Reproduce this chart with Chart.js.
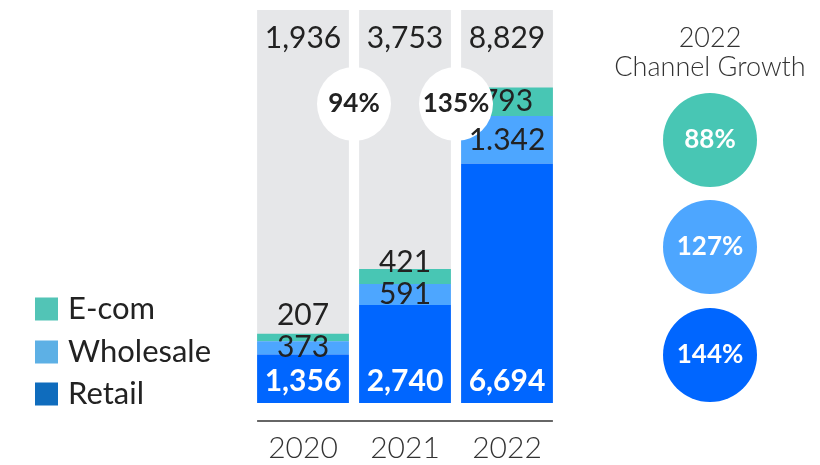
<!DOCTYPE html>
<html>
<head>
<meta charset="utf-8">
<script src="https://cdn.jsdelivr.net/npm/chart.js@4/dist/chart.umd.min.js"></script>
<style>
  html, body { margin: 0; padding: 0; background: #fff; }
  canvas { display: block; }
</style>
</head>
<body>
<canvas id="sales" width="820" height="465"></canvas>
<script>
// Sales by channel, stacked per year
const years = ['2020', '2021', '2022'];
const retail = [1356, 2740, 6694];
const wholesale = [373, 591, 1342];
const ecom = [207, 421, 793];

const retailLabels = ['1,356', '2,740', '6,694'];
const wholesaleLabels = ['373', '591', '1.342'];
const ecomLabels = ['207', '421', '793'];
const totalLabels = ['1,936', '3,753', '8,829'];

const yearGrowth = ['94%', '135%'];            // year over year, total
const channelNames = ['E-com', 'Wholesale', 'Retail'];
const channelGrowth = ['88%', '127%', '144%']; // 2022 vs 2021

const yMax = 11000;

const FONT = 'Lato, "Noto Sans", sans-serif';
const colors = {
    retail: '#0066ff',
    wholesale: '#4da6ff',
    ecom: '#48c6b4',
    backdrop: '#e6e7e9',
    text: '#222222'
};
const legendColors = ['#52c4b6', '#5db0e5', '#0f6cbd'];
const growthColors = [colors.ecom, colors.wholesale, colors.retail];

function text(ctx, str, x, y, size, weight, color, align) {
    ctx.font = weight + ' ' + size + 'px ' + FONT;
    ctx.fillStyle = color;
    ctx.textAlign = align || 'center';
    ctx.textBaseline = 'middle';
    ctx.fillText(str, x, y);
}

// grey column behind every stack, full height of the scale
const backdropPlugin = {
    id: 'backdrop',
    beforeDatasetsDraw(chart) {
        const ctx = chart.ctx;
        const area = chart.chartArea;
        ctx.save();
        ctx.fillStyle = colors.backdrop;
        chart.getDatasetMeta(0).data.forEach(bar => {
            ctx.fillRect(bar.x - bar.width / 2, area.top, bar.width, area.bottom - area.top);
        });
        ctx.restore();
    }
};

const annotationsPlugin = {
    id: 'annotations',
    afterDatasetsDraw(chart) {
        const ctx = chart.ctx;
        const area = chart.chartArea;
        const bars = [0, 1, 2].map(d => chart.getDatasetMeta(d).data);
        ctx.save();

        // label positions: centred in the segment, pushed up when the segment is too thin
        const spots = years.map((y, i) => {
            const r = bars[0][i], w = bars[1][i], e = bars[2][i];
            const retailY = r.base - 22;
            const wY = Math.min((w.y + w.base) / 2, retailY - 34);
            const eY = Math.min((e.y + e.base) / 2, wY - 32);
            return { x: r.x, retailY, wY, eY };
        });

        spots.forEach((s, i) => {
            text(ctx, ecomLabels[i], s.x, s.eY, 30, 'normal', colors.text);
            text(ctx, totalLabels[i], s.x, area.top + 28, 30, 'normal', colors.text);
        });

        // growth bubbles between the columns
        yearGrowth.forEach((g, i) => {
            const x = (bars[0][i].x + bars[0][i + 1].x) / 2;
            const y = area.top + 94;
            ctx.beginPath();
            ctx.arc(x, y, 37, 0, Math.PI * 2);
            ctx.fillStyle = '#ffffff';
            ctx.fill();
            text(ctx, g, x, y, 26, 'bold', colors.text);
        });

        spots.forEach((s, i) => {
            text(ctx, wholesaleLabels[i], s.x, s.wY, 30, 'normal', colors.text);
            text(ctx, retailLabels[i], s.x, s.retailY, 30, 'bold', '#ffffff');
        });

        // baseline under the columns
        const first = bars[0][0], last = bars[0][bars[0].length - 1];
        ctx.strokeStyle = '#333333';
        ctx.lineWidth = 1.5;
        ctx.beginPath();
        ctx.moveTo(first.x - first.width / 2, area.bottom + 18);
        ctx.lineTo(last.x + last.width / 2, area.bottom + 18);
        ctx.stroke();

        // channel growth panel
        text(ctx, '2022', 710, 38, 27, '300', '#333333');
        text(ctx, 'Channel Growth', 710, 67, 27, '300', '#333333');
        [140, 247, 355].forEach((cy, i) => {
            ctx.beginPath();
            ctx.arc(710, cy, 47, 0, Math.PI * 2);
            ctx.fillStyle = growthColors[i];
            ctx.fill();
            text(ctx, channelGrowth[i], 710, cy, 26, 'bold', '#ffffff');
        });

        // legend
        [309, 352, 394].forEach((ly, i) => {
            ctx.fillStyle = legendColors[i];
            ctx.fillRect(35, ly - 11.5, 23, 23);
            text(ctx, channelNames[i], 68, ly, 31, 'normal', colors.text, 'left');
        });

        ctx.restore();
    }
};

new Chart(document.getElementById('sales'), {
    type: 'bar',
    data: {
        labels: years,
        datasets: [
            { label: 'Retail', data: retail, backgroundColor: colors.retail },
            { label: 'Wholesale', data: wholesale, backgroundColor: colors.wholesale },
            { label: 'E-com', data: ecom, backgroundColor: colors.ecom }
        ]
    },
    options: {
        responsive: false,
        animation: false,
        devicePixelRatio: 1,
        barPercentage: 0.9,
        categoryPercentage: 1,
        layout: { padding: { left: 252, right: 262, top: 10, bottom: 0 } },
        plugins: {
            legend: { display: false },
            tooltip: { enabled: false }
        },
        scales: {
            x: {
                stacked: true,
                grid: { display: false },
                border: { display: false },
                ticks: {
                    color: '#333333',
                    padding: 19,
                    font: { family: FONT, size: 30, weight: '300' }
                },
                afterFit(scale) {
                    scale.height = 62;
                }
            },
            y: {
                stacked: true,
                display: false,
                min: 0,
                max: yMax
            }
        }
    },
    plugins: [backdropPlugin, annotationsPlugin]
});
</script>
</body>
</html>
